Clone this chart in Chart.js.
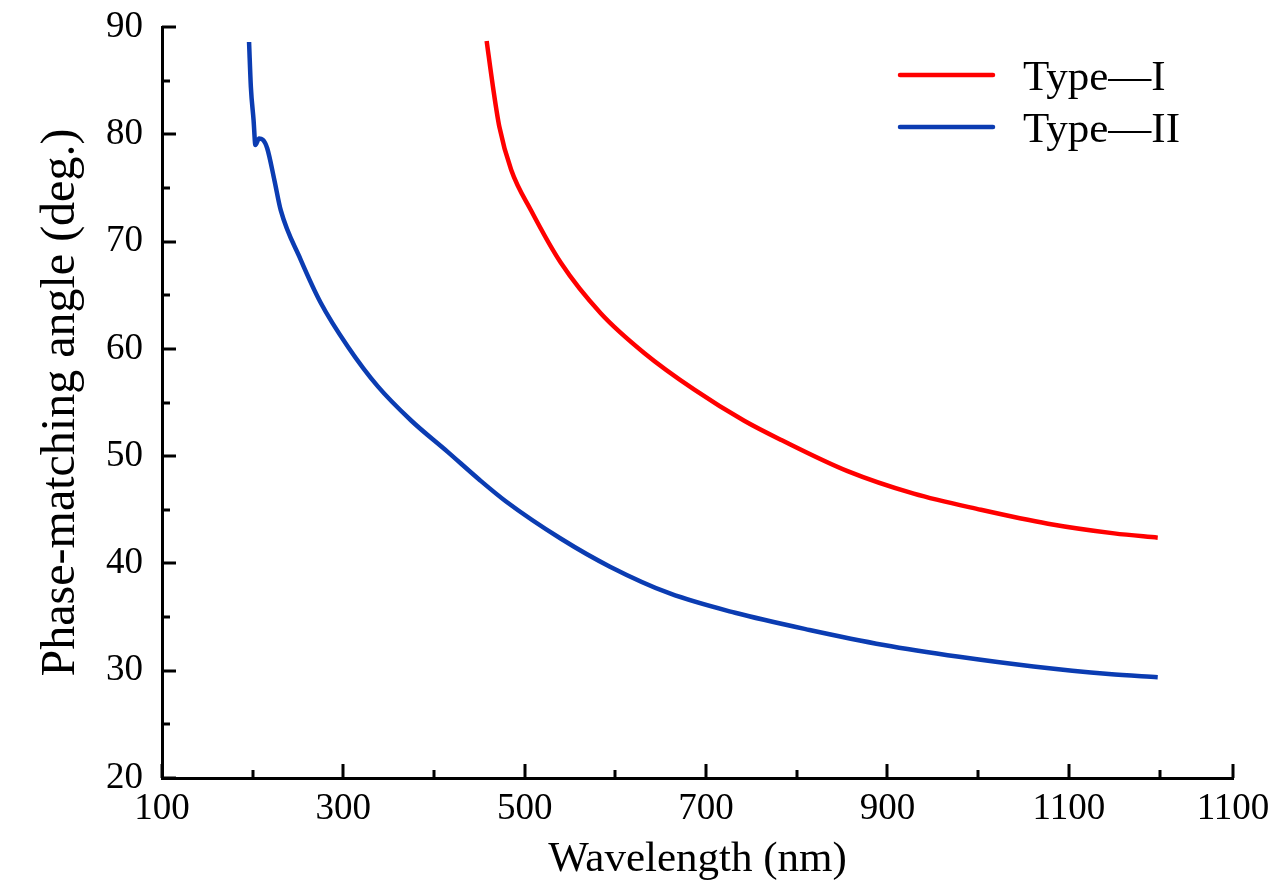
<!DOCTYPE html>
<html>
<head>
<meta charset="utf-8">
<script src="https://cdn.jsdelivr.net/npm/chart.js@4.4.1/dist/chart.umd.min.js"></script>
<style>
html, body { margin: 0; padding: 0; background: #fff; }
#wrap { width: 1276px; height: 886px; }
</style>
</head>
<body>
<div id="wrap"><canvas id="myChart"></canvas></div>
<script>
// Type-I curve
const typeIWavelength = [458, 465, 472, 485, 507, 540, 584, 632, 687, 742, 783, 856, 929, 1003, 1077, 1150, 1198];
const typeIAngle = [88.7, 84.4, 80.7, 76.7, 72.9, 68.0, 63.3, 59.6, 56.2, 53.3, 51.5, 48.6, 46.5, 45.0, 43.7, 42.8, 42.4];

// Type-II curve
const typeIIWavelength = [196, 198, 201, 203, 207, 211, 216, 224, 231, 253, 275, 305, 338, 375, 415, 450, 479, 540, 594, 660, 732, 814, 896, 979, 1061, 1144, 1198];
const typeIIAngle = [88.6, 84.4, 81.3, 79.0, 79.6, 79.5, 78.7, 75.7, 72.9, 68.3, 64.3, 60.2, 56.5, 53.3, 50.4, 47.8, 45.8, 42.3, 39.7, 37.2, 35.4, 33.8, 32.4, 31.3, 30.4, 29.7, 29.4];

const seriesLabels = ['Type\u2014I', 'Type\u2014II'];

// axes (the last x tick is labelled 1100 in the original)
const xMin = 100, xMax = 1281;
const xTickValues = [100, 300, 500, 700, 900, 1100, 1281];
const xTickLabels = ['100', '300', '500', '700', '900', '1100', '1100'];
const xMinorTicks = [200, 400, 600, 800, 1000, 1200];
const yMin = 20, yMax = 90;
const yTickValues = [20, 30, 40, 50, 60, 70, 80, 90];
const yMinorTicks = [25, 35, 45, 55, 65, 75, 85];

const FONT = "'Liberation Serif', 'Times New Roman', serif";

function toPoints(xs, ys) {
	return xs.map((x, i) => ({x: x, y: ys[i]}));
}

// inward tick marks, major and minor
const tickMarks = {
	id: 'tickMarks',
	afterDraw(chart) {
		const {ctx, chartArea, scales} = chart;
		ctx.save();
		ctx.strokeStyle = '#000';
		ctx.lineWidth = 3;
		const drawX = (vals, len) => vals.forEach(v => {
			const px = Math.round(scales.x.getPixelForValue(v));
			ctx.beginPath();
			ctx.moveTo(px, chartArea.bottom);
			ctx.lineTo(px, chartArea.bottom - len);
			ctx.stroke();
		});
		const drawY = (vals, len) => vals.forEach(v => {
			const py = Math.round(scales.y.getPixelForValue(v));
			ctx.beginPath();
			ctx.moveTo(chartArea.left, py);
			ctx.lineTo(chartArea.left + len, py);
			ctx.stroke();
		});
		drawX(xTickValues, 14);
		drawX(xMinorTicks, 8);
		drawY(yTickValues, 14);
		drawY(yMinorTicks, 8);
		ctx.restore();
	}
};

// legend in the top right corner of the plot
const insideLegend = {
	id: 'insideLegend',
	afterDraw(chart) {
		const {ctx, chartArea} = chart;
		const x0 = chartArea.right - 333;
		ctx.save();
		ctx.font = '43px ' + FONT;
		ctx.fillStyle = '#000';
		ctx.textBaseline = 'alphabetic';
		chart.data.datasets.forEach((ds, i) => {
			const y = chartArea.top + 48 + i * 52;
			ctx.strokeStyle = ds.borderColor;
			ctx.lineWidth = 4.5;
			ctx.lineCap = 'round';
			ctx.beginPath();
			ctx.moveTo(x0, y);
			ctx.lineTo(x0 + 93, y);
			ctx.stroke();
			ctx.fillText(ds.label, x0 + 123, y + 15);
		});
		ctx.restore();
	}
};

const ctx = document.getElementById('myChart').getContext('2d');
new Chart(ctx, {
	type: 'scatter',
	data: {
		datasets: [{
			label: seriesLabels[0],
			data: toPoints(typeIWavelength, typeIAngle),
			borderColor: '#ff0000',
			backgroundColor: '#ff0000',
			borderWidth: 4.5,
			showLine: true,
			pointRadius: 0,
			cubicInterpolationMode: 'monotone'
		}, {
			label: seriesLabels[1],
			data: toPoints(typeIIWavelength, typeIIAngle),
			borderColor: '#0b3cb2',
			backgroundColor: '#0b3cb2',
			borderWidth: 4.5,
			showLine: true,
			pointRadius: 0,
			cubicInterpolationMode: 'monotone'
		}]
	},
	options: {
		responsive: true,
		maintainAspectRatio: false,
		animation: false,
		layout: {
			padding: {top: 27, right: 43, left: 0, bottom: 0}
		},
		plugins: {
			legend: {display: false},
			tooltip: {enabled: false}
		},
		scales: {
			x: {
				type: 'linear',
				min: xMin,
				max: xMax,
				afterBuildTicks: s => { s.ticks = xTickValues.map(v => ({value: v})); },
				afterFit: s => { s.height = 108; s.paddingLeft = 0; s.paddingRight = 0; },
				grid: {display: false, drawTicks: false},
				border: {display: true, color: '#000', width: 3},
				ticks: {
					autoSkip: false,
					maxRotation: 0,
					padding: 9,
					color: '#000',
					font: {family: FONT, size: 37},
					callback: (v, i) => xTickLabels[i]
				},
				title: {
					display: true,
					text: 'Wavelength (nm)',
					color: '#000',
					font: {family: FONT, size: 43},
					padding: {top: 0, bottom: 0}
				}
			},
			y: {
				type: 'linear',
				min: yMin,
				max: yMax,
				afterBuildTicks: s => { s.ticks = yTickValues.map(v => ({value: v})); },
				afterFit: s => { s.width = 162; s.paddingTop = 0; s.paddingBottom = 0; },
				grid: {display: false, drawTicks: false},
				border: {display: true, color: '#000', width: 3},
				ticks: {
					padding: 19,
					color: '#000',
					font: {family: FONT, size: 37}
				},
				title: {
					display: true,
					text: 'Phase-matching angle (deg.)',
					color: '#000',
					font: {family: FONT, size: 48},
					padding: {top: 33, bottom: 0}
				}
			}
		}
	},
	plugins: [tickMarks, insideLegend]
});
</script>
</body>
</html>
